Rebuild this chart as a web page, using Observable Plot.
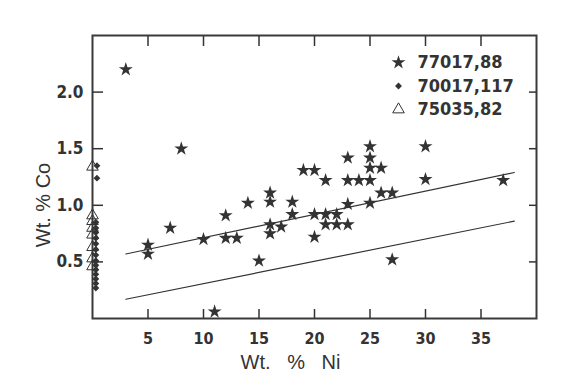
<!DOCTYPE html>
<html><head><meta charset="utf-8">
<script src="https://cdn.jsdelivr.net/npm/d3@7"></script>
<script src="https://cdn.jsdelivr.net/npm/@observablehq/plot@0.6"></script>
<style>
html,body{margin:0;padding:0;background:#fff;}
</style></head><body>
<div id="chart"></div>
<script>
// 77017,88 (stars)
const ni77017 = [3,8,5,5,7,10,11,12,12,13,14,15,16,16,16,16,17,18,18,19,20,20,20,21,21,21,22,22,23,23,23,23,24,25,25,25,25,25,26,26,27,27,30,30,37];
const co77017 = [2.2,1.5,0.65,0.57,0.8,0.7,0.06,0.91,0.71,0.71,1.02,0.51,1.11,1.03,0.83,0.75,0.81,1.03,0.92,1.31,1.31,0.92,0.72,1.22,0.92,0.83,0.92,0.83,1.42,1.22,1.01,0.83,1.22,1.52,1.42,1.33,1.22,1.02,1.33,1.11,1.11,0.52,1.52,1.23,1.22];
// 70017,117 (diamonds)
const ni70017 = [0.4,0.4,0.3,0.3,0.3,0.3,0.3,0.3,0.3,0.3,0.3,0.3,0.3,0.3,0.3,0.3];
const co70017 = [1.35,1.24,0.85,0.8,0.76,0.71,0.66,0.61,0.56,0.51,0.47,0.43,0.39,0.35,0.31,0.27];
// 75035,82 (open triangles)
const ni75035 = [0,0,0,0,0,0,0,0];
const co75035 = [1.34,0.91,0.86,0.8,0.74,0.63,0.53,0.46];
// trend lines
const upperNi = [3,38];
const upperCo = [0.57,1.29];
const lowerNi = [3,38];
const lowerCo = [0.17,0.86];
// ticks and labels
const xTicks = [5,10,15,20,25,30,35];
const yTicks = [0.5,1.0,1.5,2.0];
const xLabel = "Wt.\u00a0\u00a0\u00a0%\u00a0\u00a0\u00a0Ni";
const yLabel = "Wt.\u00a0%\u00a0Co";
const legendNames = ["77017,88","70017,117","75035,82"];
const legendSymbols = ["star","diamond2","triangle"];

const ink = "#333";
const narrow = "'Liberation Sans Narrow','DejaVu Sans Condensed','Roboto Condensed','Arial Narrow',sans-serif";
const regular = "'Liberation Sans',Arial,Helvetica,sans-serif";

const zip = (xs, ys) => xs.map((x, i) => ({x, y: ys[i]}));
const stars = zip(ni77017, co77017);
const diamonds = zip(ni70017, co70017);
const triangles = zip(ni75035, co75035);
const upper = zip(upperNi, upperCo);
const lower = zip(lowerNi, lowerCo);

const symbolStyle = {
  star: {fill: ink, stroke: "none", r: 4.4},
  diamond2: {fill: ink, stroke: "none", r: 3.1},
  triangle: {fill: "none", stroke: ink, strokeWidth: 1, r: 4.3}
};

const legendMarks = legendNames.flatMap((name, i) => [
  Plot.dot([name], {frameAnchor: "top-left", dx: 306, dy: 27 + i * 23.5, symbol: legendSymbols[i], ...symbolStyle[legendSymbols[i]]}),
  Plot.text([name], {frameAnchor: "top-left", dx: 325, dy: 27 + i * 23.5, text: d => d, textAnchor: "start", lineAnchor: "middle",
    fontSize: 18, fontFamily: narrow, fontWeight: "bold", fill: ink})
]);

const chart = Plot.plot({
  width: 571,
  height: 390,
  marginLeft: 92,
  marginRight: 35,
  marginTop: 35,
  marginBottom: 72,
  style: {background: "#fff", color: ink, overflow: "visible"},
  x: {domain: [0, 40]},
  y: {domain: [0, 2.5]},
  marks: [
    Plot.frame({stroke: "#3a3a3a", strokeWidth: 2}),
    // bottom ticks (inward) with labels
    Plot.axisX(xTicks, {anchor: "bottom", tickSize: 9, dy: -9, tickPadding: 14, stroke: ink, strokeWidth: 1.5,
      fontSize: 16, fontFamily: narrow, fontWeight: "bold", fill: ink, label: null}),
    // top ticks (inward)
    Plot.axisX(xTicks, {anchor: "top", tickSize: 10, dy: 10, tickFormat: () => "", stroke: ink, strokeWidth: 1.5, label: null}),
    // left ticks with labels
    Plot.axisY(yTicks, {anchor: "left", tickSize: 11, dx: 11, tickPadding: 9, tickFormat: d3.format(".1f"), stroke: ink, strokeWidth: 1.5,
      fontSize: 17, fontFamily: narrow, fontWeight: "bold", fill: ink, label: null}),
    // right ticks (inward)
    Plot.axisY(yTicks, {anchor: "right", tickSize: 8, dx: -8, tickFormat: () => "", stroke: ink, strokeWidth: 1.5, label: null}),
    // axis titles
    Plot.text([xLabel], {frameAnchor: "bottom", dx: -24, dy: 44, text: d => d, fontSize: 20, fontFamily: regular, fill: ink, lineAnchor: "middle"}),
    Plot.text([yLabel], {frameAnchor: "left", dx: -49, dy: 28, rotate: -90, textAnchor: "middle", text: d => d, fontSize: 20, fontFamily: regular, fill: ink, lineAnchor: "middle"}),
    // trend lines
    Plot.line(upper, {x: "x", y: "y", stroke: ink, strokeWidth: 1.2}),
    Plot.line(lower, {x: "x", y: "y", stroke: ink, strokeWidth: 1.2}),
    // data
    Plot.dot(triangles, {x: "x", y: "y", symbol: "triangle", ...symbolStyle.triangle}),
    Plot.dot(diamonds, {x: "x", y: "y", symbol: "diamond2", ...symbolStyle.diamond2}),
    Plot.dot(stars, {x: "x", y: "y", symbol: "star", ...symbolStyle.star}),
    ...legendMarks
  ]
});
document.getElementById("chart").appendChild(chart);
</script>
</body></html>
